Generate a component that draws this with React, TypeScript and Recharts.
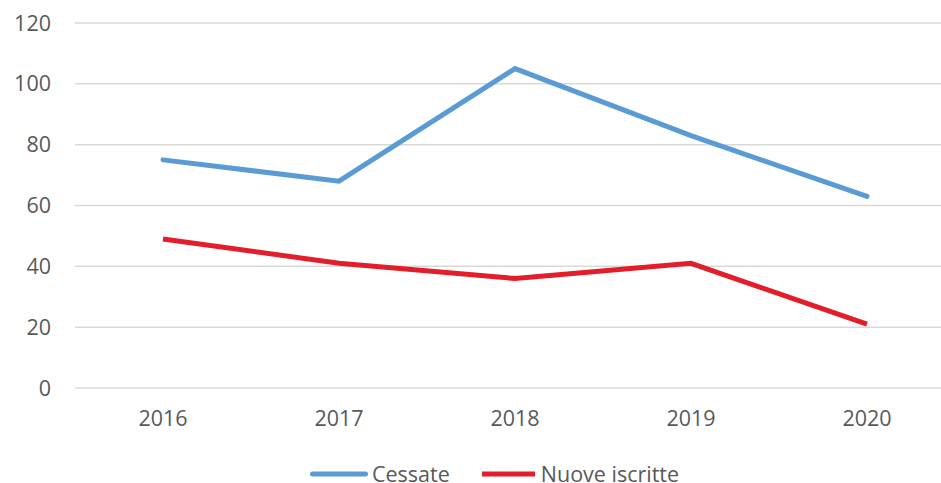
import { LineChart, Line, XAxis, YAxis, CartesianGrid } from "recharts";

const years = ["2016", "2017", "2018", "2019", "2020"];
const cessate = [75, 68, 105, 83, 63];
const nuoveIscritte = [49, 41, 36, 41, 21];
const yTicks = [0, 20, 40, 60, 80, 100, 120];

const BLUE = "#5B9BD5";
const RED = "#E31E2A";
const FONT = "'Open Sans', 'Noto Sans', sans-serif";

const data = years.map((year, i) => ({
  year,
  Cessate: cessate[i],
  "Nuove iscritte": nuoveIscritte[i],
}));

function ChartLegend() {
  return (
    <div
      style={{
        position: "absolute",
        left: 310,
        top: 465,
        height: 18,
        lineHeight: "18px",
        display: "flex",
        alignItems: "center",
        fontFamily: FONT,
        fontSize: 21.5,
        color: "#595959",
        whiteSpace: "nowrap",
      }}
    >
      <svg width={58} height={10}>
        <line x1={2.5} y1={5} x2={55.5} y2={5} stroke={BLUE} strokeWidth={5} strokeLinecap="round" />
      </svg>
      <span style={{ marginLeft: 4 }}>Cessate</span>
      <svg width={53} height={10} style={{ marginLeft: 32 }}>
        <line x1={0} y1={5} x2={53} y2={5} stroke={RED} strokeWidth={5} />
      </svg>
      <span style={{ marginLeft: 6 }}>Nuove iscritte</span>
    </div>
  );
}

export default function App() {
  return (
    <div
      style={{
        position: "absolute",
        left: 0,
        top: 0,
        width: 941,
        height: 483,
        overflow: "hidden",
        background: "#fff",
      }}
    >
      <LineChart
        width={955}
        height={483}
        data={data}
        margin={{ top: 23, right: 0, left: 0, bottom: 55 }}
      >
        <CartesianGrid vertical={false} stroke="#D9D9D9" strokeWidth={1.5} />
        <XAxis
          dataKey="year"
          axisLine={false}
          tickLine={false}
          tickSize={0}
          tickMargin={23}
          height={40}
          padding={{ left: 88, right: 88 }}
          tick={{ fill: "#595959", fontSize: 21.5, fontFamily: FONT }}
        />
        <YAxis
          domain={[0, 120]}
          ticks={yTicks}
          axisLine={false}
          tickLine={false}
          tickSize={0}
          tickMargin={24}
          width={75}
          tick={{ fill: "#595959", fontSize: 21.5, fontFamily: FONT }}
        />
        <Line
          type="linear"
          dataKey="Cessate"
          stroke={BLUE}
          strokeWidth={5}
          strokeLinecap="round"
          dot={false}
          isAnimationActive={false}
        />
        <Line
          type="linear"
          dataKey="Nuove iscritte"
          stroke={RED}
          strokeWidth={5}
          dot={false}
          isAnimationActive={false}
        />
      </LineChart>
      <ChartLegend />
    </div>
  );
}
